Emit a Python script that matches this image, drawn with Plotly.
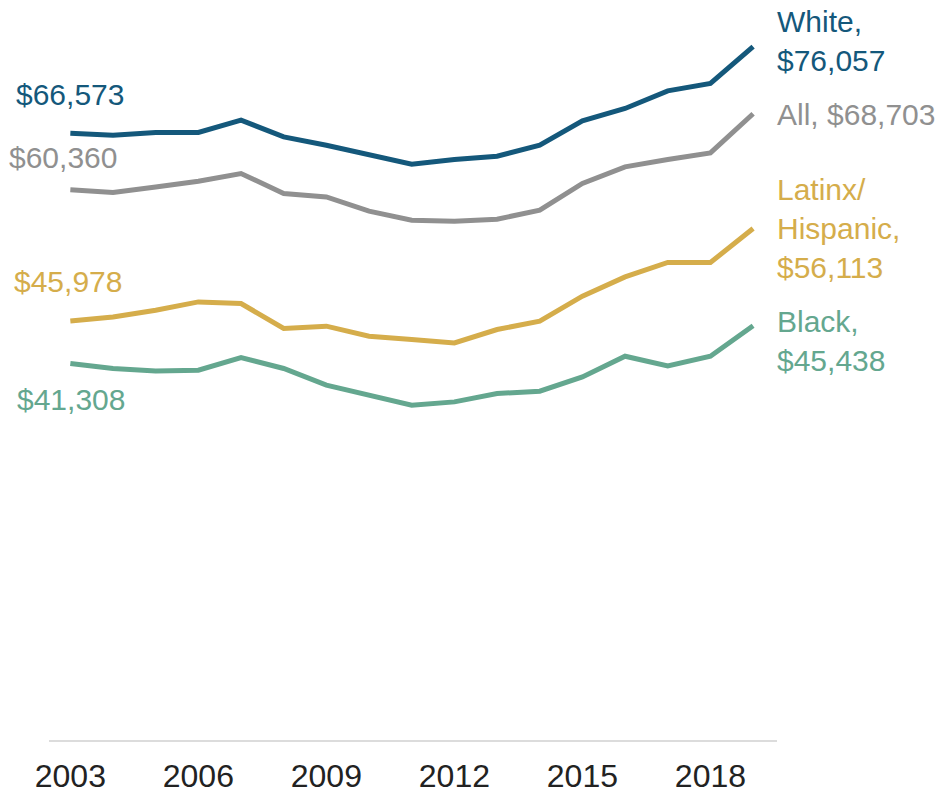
import plotly.graph_objects as go

# Median household income by race/ethnicity, 2003-2019 (USD)
years = list(range(2003, 2020))
white = [66573, 66352, 66648, 66648, 68000, 66166, 65255, 64234, 63170, 63686,
         64050, 65255, 67920, 69282, 71213, 72024, 76057]
all_households = [60360, 60066, 60680, 61306, 62150, 59956, 59583, 58014, 57027, 56917,
                  57137, 58124, 61053, 62875, 63686, 64411, 68703]
latinx = [45978, 46418, 47153, 48064, 47888, 45145, 45398, 44301, 43939, 43566,
          45036, 45946, 48689, 50806, 52386, 52386, 56113]
black = [41308, 40757, 40494, 40570, 41964, 40757, 38925, 37828, 36731, 37093,
         38014, 38266, 39836, 42106, 41042, 42106, 45438]

tick_years = [2003, 2006, 2009, 2012, 2015, 2018]

series = [
    ("White", white, "#14587b"),
    ("All", all_households, "#909090"),
    ("Latinx/Hispanic", latinx, "#d5ad4b"),
    ("Black", black, "#64a78f"),
]

FONT = "Liberation Sans, Arial, Helvetica, sans-serif"

fig = go.Figure()
for name, vals, color in series:
    fig.add_trace(go.Scatter(
        x=years, y=vals, mode="lines", name=name,
        line=dict(color=color, width=5),
        hoverinfo="skip",
    ))

def money(v):
    return "${:,}".format(v)

# starting values, left side
start_labels = [
    (white, "#14587b", -56, 39),
    (all_households, "#909090", -63, 32),
    (latinx, "#d5ad4b", -58, 39),
    (black, "#64a78f", -55, -36),
]
for vals, color, dx, dy in start_labels:
    fig.add_annotation(
        x=years[0], y=vals[0], xref="x", yref="y",
        text=money(vals[0]), showarrow=False,
        xanchor="left", yanchor="middle",
        xshift=dx, yshift=dy,
        font=dict(family=FONT, size=30, color=color),
    )

# ending values, right side
end_labels = [
    ("White,<br>" + money(white[-1]), white, "#14587b", 6),
    ("All, " + money(all_households[-1]), all_households, "#909090", -1),
    ("Latinx/<br>Hispanic,<br>" + money(latinx[-1]), latinx, "#d5ad4b", 0),
    ("Black,<br>" + money(black[-1]), black, "#64a78f", -15),
]
for text, vals, color, dy in end_labels:
    fig.add_annotation(
        x=years[-1], y=vals[-1], xref="x", yref="y",
        text=text, showarrow=False, align="left",
        xanchor="left", yanchor="middle",
        xshift=22, yshift=dy,
        font=dict(family=FONT, size=30, color=color),
    )

fig.update_layout(
    width=941, height=798,
    margin=dict(l=49, r=164, t=20, b=58),
    paper_bgcolor="white", plot_bgcolor="white",
    showlegend=False,
    font=dict(family=FONT),
    xaxis=dict(
        range=[2002.5, 2019.56],
        tickvals=tick_years,
        ticktext=[str(y) for y in tick_years],
        showgrid=False, zeroline=False, automargin=False,
        showline=True, linecolor="#dcdcdc", linewidth=2,
        ticks="", ticklabelstandoff=7,
        tickfont=dict(family=FONT, size=32, color="#222222"),
    ),
    yaxis=dict(
        range=[0, 78990],
        showgrid=False, zeroline=False, showline=False,
        showticklabels=False, ticks="", automargin=False,
    ),
)

fig.write_html("out.html")
